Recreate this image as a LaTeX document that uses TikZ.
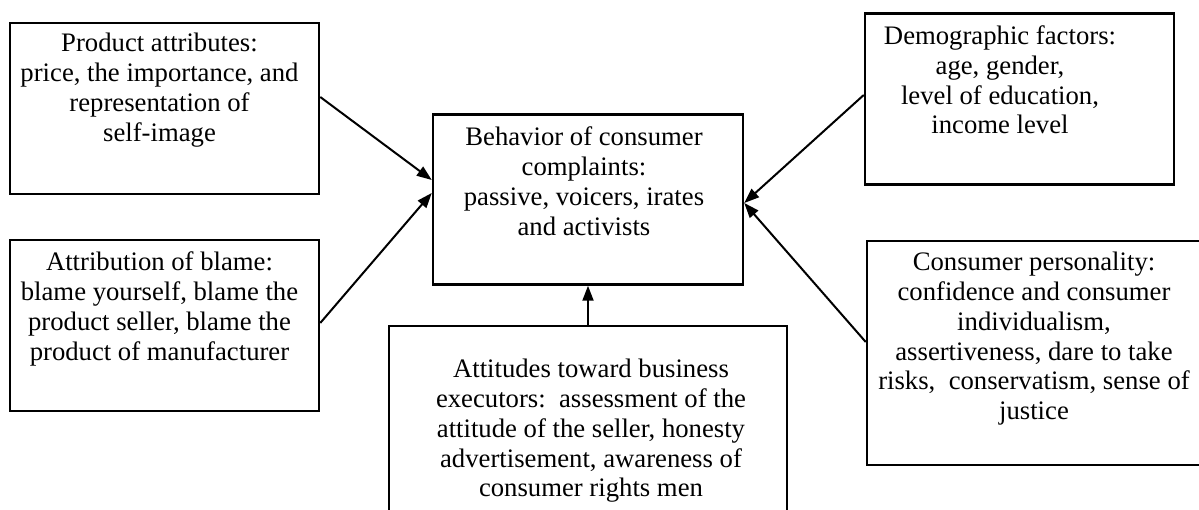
\documentclass[tikz,border=0pt]{standalone}
\usepackage{fontspec}
\setmainfont{Liberation Serif}
\usetikzlibrary{arrows.meta,calc}
\begin{document}
\begin{tikzpicture}[x=1pt,y=-1pt,
  box/.style={draw, line width=2.5pt, inner sep=0pt},
  txt/.style={inner sep=0pt, align=center, font=\fontsize{26.7}{29.8}\selectfont, anchor=north},
  arr/.style={line width=2pt, -{Triangle[length=15pt,width=11pt]}}]
\useasboundingbox (0,0) rectangle (1199,510);
% boxes
\node[box, minimum width=309pt, minimum height=171pt] (pa) at (164.5,108.5) {};
\node[box, minimum width=309pt, minimum height=171pt] (ab) at (164.5,325.5) {};
\node[box, minimum width=310pt, minimum height=170pt] (cb) at (588,199.5) {};
\node[box, minimum width=309pt, minimum height=171pt] (df) at (1019.5,99) {};
\node[box, minimum width=338pt, minimum height=224pt] (cp) at (1036,353) {};
\node[box, minimum width=398pt, minimum height=214pt] (at) at (588,433) {};
% texts
\node[txt] (paT) at (159.5,33) {Product attributes:\\price, the importance, and\\representation of\\self-image};
\node[txt] (abT) at (159.5,252) {Attribution of blame:\\blame yourself, blame the\\product seller, blame the\\product of manufacturer};
\node[txt] (cbT) at (584,127) {Behavior of consumer\\complaints:\\passive, voicers, irates\\and activists};
\node[txt] (dfT) at (1000,25.5) {Demographic factors:\\age, gender,\\level of education,\\income level};
\node[txt] (cpT) at (1034,252) {Consumer personality:\\confidence and consumer\\individualism,\\assertiveness, dare to take\\risks,\ \ conservatism, sense of\\justice};
\node[txt] (atT) at (591,359) {Attitudes toward business\\executors:\ \ assessment of the\\attitude of the seller, honesty\\advertisement, awareness of\\consumer rights men};
% connectors
\draw[arr] ($(pa.east)+(0,-11.5)$) -- ($(cb.west)+(0,-19.5)$);
\draw[arr] ($(ab.east)+(0,-2.5)$) -- ($(cb.west)+(0,-6.5)$);
\draw[arr] (at.north) -- (cb.south);
\draw[arr] ($(df.west)+(0,-4)$) -- ($(cb.east)+(0,3.5)$);
\draw[arr] ($(cp.west)+(0,-11)$) -- ($(cb.east)+(0,3.5)$);
\end{tikzpicture}
\end{document}
